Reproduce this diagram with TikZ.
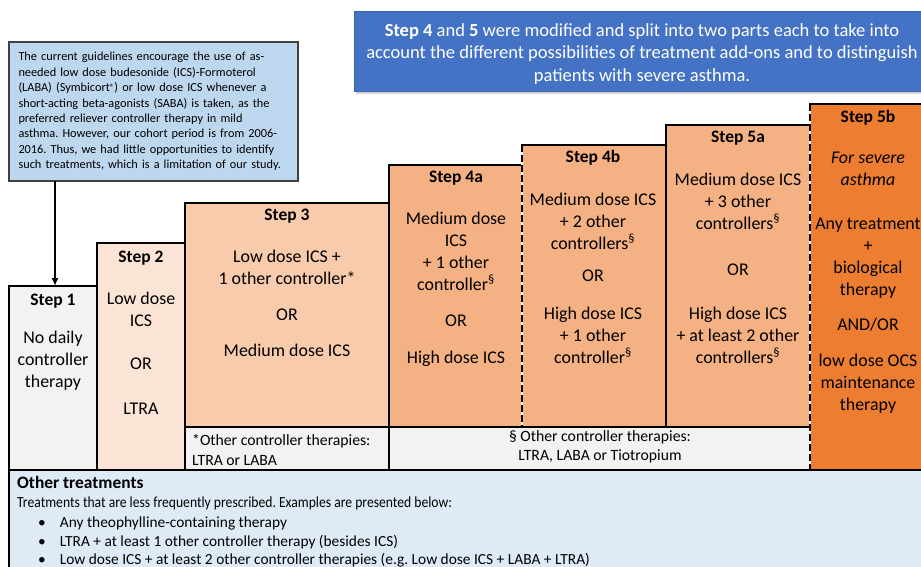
\documentclass[tikz,border=0pt]{standalone}
\usepackage{fontspec}
\setmainfont{Carlito}
\frenchspacing
\usetikzlibrary{arrows.meta,shadows}

\definecolor{stepgray}{HTML}{F2F2F2}
\definecolor{steptwo}{HTML}{FBE4D6}
\definecolor{stepthree}{HTML}{F8CBAD}
\definecolor{stepfour}{HTML}{F4B183}
\definecolor{stepsevere}{HTML}{ED7D31}
\definecolor{otherblue}{HTML}{DEEBF7}
\definecolor{noteblue}{HTML}{BDD7EE}
\definecolor{headblue}{HTML}{4472C4}
\definecolor{headedge}{HTML}{3A64B0}

\tikzset{
  stepbox/.style={draw=black, line width=2.4pt, inner sep=0pt, outer sep=0pt,
    anchor=north west, rectangle},
  steptitle/.style={font=\bfseries\fontsize{17.5}{20}\selectfont, inner sep=0pt},
  stepbody/.style={align=center, inner sep=0pt, font=\fontsize{17.9}{22}\selectfont},
  footnotetext/.style={inner sep=0pt, font=\fontsize{15.7}{20}\selectfont},
  otherline/.style={inner sep=0pt, anchor=base west, font=\fontsize{15.4}{19}\selectfont},
  splitline/.style={line width=2.4pt},
  arrowline/.style={line width=2pt, -{Latex[length=8pt,width=7pt]}},
}
\newcommand{\otherbullet}{\hspace*{21pt}•\hspace*{14pt}}

\begin{document}
\begin{tikzpicture}[x=1pt,y=-1pt]
\useasboundingbox (0,0) rectangle (921,566);
\clip (0,0) rectangle (921,566);

% lower panel with the less common treatments
\node[stepbox, fill=otherblue, minimum width=930pt, minimum height=110pt] (other) at (9,470) {};

% staircase of treatment steps
\node[stepbox, fill=stepgray,  minimum width=88pt,  minimum height=184pt] (s1)  at (9,286) {};
\node[stepbox, fill=steptwo,   minimum width=88pt,  minimum height=227pt] (s2)  at (97,243) {};
\node[stepbox, fill=stepthree, minimum width=204pt, minimum height=224pt] (s3)  at (185,203) {};
\node[stepbox, fill=stepfour,  minimum width=133pt, minimum height=262pt] (s4a) at (389,165) {};
\node[stepbox, fill=stepfour,  minimum width=144pt, minimum height=282pt] (s4b) at (522,145) {};
\node[stepbox, fill=stepfour,  minimum width=144pt, minimum height=302pt] (s5a) at (666,125) {};
\node[stepbox, fill=stepsevere,minimum width=125pt, minimum height=366pt] (s5b) at (810,104) {};
\node[stepbox, fill=stepgray,  minimum width=204pt, minimum height=43pt]  (f1)  at (185,427) {};
\node[stepbox, fill=stepgray,  minimum width=421pt, minimum height=43pt]  (f2)  at (389,427) {};

% split steps: black dashes on a white line
\draw[splitline, white] (s4b.north west) -- (s4b.south west);
\draw[splitline, black, dash pattern=on 7pt off 3pt] (s4b.north west) -- (s4b.south west);
\draw[splitline, white] (s5b.north west) -- (s5b.south west);
\draw[splitline, black, dash pattern=on 7pt off 3pt] (s5b.north west) -- (s5b.south west);

% step titles
\node[steptitle] (t1)  at (53,301)  {Step 1};
\node[steptitle] (t2)  at (141,258) {Step 2};
\node[steptitle] (t3)  at (287,216) {Step 3};
\node[steptitle] (t4a) at (456,178) {Step 4a};
\node[steptitle] (t4b) at (593,158) {Step 4b};
\node[steptitle] (t5a) at (738,138) {Step 5a};
\node[steptitle] (t5b) at (868,118) {Step 5b};

% step contents
\node[stepbody] (b1) at (53,361) {No daily\\controller\\therapy};
\node[stepbody] (b2) at (141,353) {Low dose\\ICS\\[21pt]OR\\[23pt]LTRA};
\node[stepbody] (b3) at (287,303) {Low dose ICS +\\1 other controller*\\[14pt]OR\\[14pt]Medium dose ICS};
\node[stepbody] (b4a) at (456,289) {Medium dose\\ICS\\+ 1 other\\controller\textsuperscript{§}\\[14pt]OR\\[15pt]High dose ICS};
\node[stepbody] (b4b) at (593,278) {Medium dose ICS\\+ 2 other\\controllers\textsuperscript{§}\\[10pt]OR\\[16pt]High dose ICS\\+ 1 other\\controller\textsuperscript{§}};
\node[stepbody] (b5a) at (738,268) {Medium dose ICS\\+ 3 other\\controllers\textsuperscript{§}\\[24pt]OR\\[22pt]High dose ICS\\+ at least 2 other\\controllers\textsuperscript{§}};
\node[stepbody] (b5b) at (868,283) {\textit{For severe}\\\textit{asthma}\\[22pt]Any treatment\\+\\biological\\therapy\\[13pt]AND/OR\\[14pt]low dose OCS\\maintenance\\therapy};

% footnotes on other controllers
\node[footnotetext, align=left, anchor=west] (n1) at (192,450)
  {*Other controller therapies:\\LTRA or LABA};
\node[footnotetext, align=center, font=\fontsize{15.7}{18.5}\selectfont] (n2) at (600,447)
  {§ Other controller therapies:\\LTRA, LABA or Tiotropium};

% less frequent treatments
\node[otherline, font=\bfseries\fontsize{17.4}{20}\selectfont] (oh) at (17,488.5) {Other treatments};
\node[otherline] (oi) at (17,507.5)
  {\scalebox{0.885}[1]{Treatments that are less frequently prescribed. Examples are presented below:}};
\node[otherline] (o1) at (17,527) {\otherbullet Any theophylline-containing therapy};
\node[otherline] (o2) at (17,546) {\otherbullet LTRA + at least 1 other controller therapy (besides ICS)};
\node[otherline] (o3) at (17,564) {\otherbullet Low dose ICS + at least 2 other controller therapies (e.g. Low dose ICS + LABA + LTRA)};

% note on current guidelines
\node[draw=black!75, line width=1.2pt, fill=noteblue, minimum width=289pt, minimum height=139pt,
      text width=270pt, inner xsep=9.5pt, align=left, outer sep=0pt,
      font=\fontsize{12.3}{15.4}\selectfont] (note) at (153.5,111.5)
  {The current guidelines encourage the use of as-\\
   needed low dose budesonide (ICS)-Formoterol\\
   (LABA) (Symbicort\raisebox{0.25ex}{\fontsize{9}{9}\selectfont ®}) or low dose ICS whenever a\\
   short-acting beta-agonists (SABA) is taken, as the\\
   preferred reliever controller therapy in mild\\
   asthma. However, our cohort period is from 2006-\\
   2016. Thus, we had little opportunities to identify\\
   such treatments, which is a limitation of our study.};

\coordinate (arrowx) at (55,0);
\draw[arrowline] (note.south -| arrowx) -- (s1.north -| arrowx);

% heading box on the split steps
\node[fill=headblue, draw=headedge, line width=0.8pt, minimum width=576pt, minimum height=80pt,
      outer sep=0pt, drop shadow={opacity=0.35, shadow xshift=2pt, shadow yshift=-3pt}]
  (head) at (642,51) {};
\node[text=white, align=center, inner sep=0pt, font=\fontsize{18.5}{22.5}\selectfont]
  (headtext) at (642,54)
  {\textbf{Step 4} and \textbf{5} were modified and split into two parts each to take into\\
   account the different possibilities of treatment add-ons and to distinguish\\
   patients with severe asthma.};
\end{tikzpicture}
\end{document}
